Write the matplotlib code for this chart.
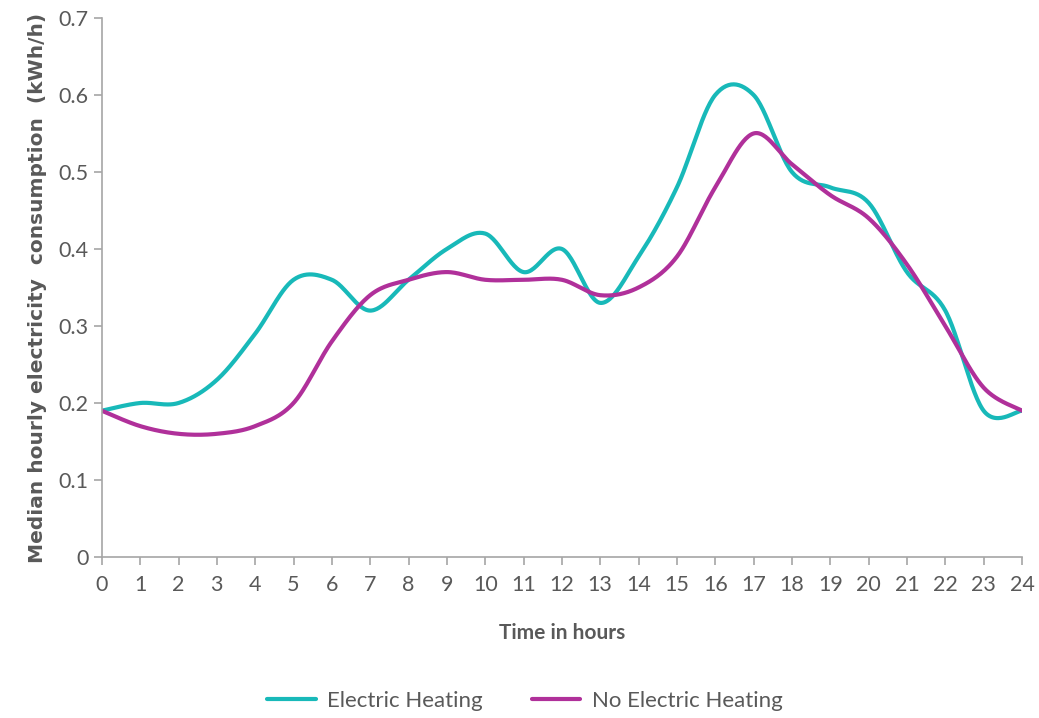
import numpy as np
import matplotlib
matplotlib.use("Agg")
from matplotlib import pyplot as plt

hours = list(range(25))
electric = [0.19, 0.20, 0.20, 0.23, 0.29, 0.36, 0.36, 0.32, 0.36, 0.40, 0.42, 0.37, 0.40,
            0.33, 0.39, 0.48, 0.60, 0.60, 0.50, 0.48, 0.46, 0.37, 0.32, 0.19, 0.19]
no_electric = [0.19, 0.17, 0.16, 0.16, 0.17, 0.20, 0.28, 0.34, 0.36, 0.37, 0.36, 0.36, 0.36,
               0.34, 0.35, 0.39, 0.48, 0.55, 0.51, 0.47, 0.44, 0.38, 0.30, 0.22, 0.19]
xticks = list(range(25))
yticks = [0, 0.1, 0.2, 0.3, 0.4, 0.5, 0.6, 0.7]


def smooth(x, y, n=30):
    # excel-style smoothed line (bezier, control points at 1/6 of neighbour diff)
    x = np.asarray(x, float)
    y = np.asarray(y, float)
    px = np.concatenate([[x[0]], x, [x[-1]]])
    py = np.concatenate([[y[0]], y, [y[-1]]])
    xs, ys = [], []
    t = np.linspace(0, 1, n)
    for i in range(1, len(px) - 2):
        p0 = np.array([px[i], py[i]])
        p3 = np.array([px[i + 1], py[i + 1]])
        c1 = p0 + (np.array([px[i + 1], py[i + 1]]) - np.array([px[i - 1], py[i - 1]])) / 6
        c2 = p3 - (np.array([px[i + 2], py[i + 2]]) - np.array([px[i], py[i]])) / 6
        b = ((1 - t) ** 3)[:, None] * p0 + (3 * (1 - t) ** 2 * t)[:, None] * c1 \
            + (3 * (1 - t) * t ** 2)[:, None] * c2 + (t ** 3)[:, None] * p3
        xs.extend(b[:, 0])
        ys.extend(b[:, 1])
    return xs, ys


plt.rcParams["font.family"] = ["Lato", "DejaVu Sans"]

fig = plt.figure(figsize=(10.39, 7.18), dpi=100)
ax = fig.add_axes([0.098, 0.2242, 0.8856, 0.7508])

sx, sy = smooth(hours, electric)
ax.plot(sx, sy, color="#18B9B9", lw=3, label="Electric Heating", solid_capstyle="round")
sx, sy = smooth(hours, no_electric)
ax.plot(sx, sy, color="#B0309A", lw=3, label="No Electric Heating", solid_capstyle="round")

ax.set_xlim(0, 24)
ax.set_ylim(0, 0.7)
ax.set_xticks(xticks)
ax.set_yticks(yticks)
ax.set_yticklabels(["0", "0.1", "0.2", "0.3", "0.4", "0.5", "0.6", "0.7"])

for s in ["top", "right"]:
    ax.spines[s].set_visible(False)
for s in ["left", "bottom"]:
    ax.spines[s].set_color("#A6A6A6")
    ax.spines[s].set_linewidth(1.2)
ax.tick_params(colors="#A6A6A6", labelcolor="#595959", labelsize=15.5, length=6, width=1.2)
ax.tick_params(axis="x", pad=7)

ax.set_xlabel("Time in hours", fontsize=15, fontweight="bold", color="#595959", labelpad=20)
ax.set_ylabel("Median hourly electricity  consumption  (kWh/h)", fontsize=14.5,
              fontweight="bold", color="#595959", family="DejaVu Sans", labelpad=8)

fig.legend(loc="lower center", ncol=2, frameon=False, fontsize=16,
           bbox_to_anchor=(0.505, -0.018), handlelength=2.2, handletextpad=0.5,
           columnspacing=2.2, labelcolor="#595959")

plt.savefig("out.png", dpi=100)
